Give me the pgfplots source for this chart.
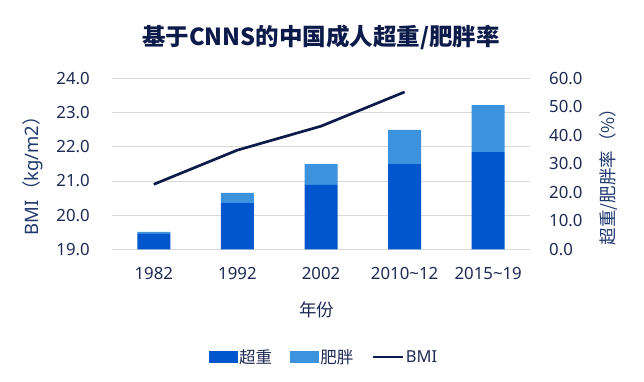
\documentclass[border=0pt]{standalone}
\usepackage{fontspec}
\setmainfont{Noto Sans}
\newfontfamily\cjk{Noto Sans CJK SC}
\usepackage{pgfplots}
\pgfplotsset{compat=1.18}
\definecolor{ow}{RGB}{0,86,204}
\definecolor{ob}{RGB}{60,146,221}
\definecolor{bmi}{RGB}{13,27,75}
\definecolor{txt}{RGB}{30,42,84}
\definecolor{lbl}{RGB}{31,56,110}
\definecolor{gridc}{RGB}{217,217,217}
\begin{document}
\begin{tikzpicture}
\path[use as bounding box] (0,0) rectangle (644pt,381pt);
\node[text=bmi] at (321pt,344pt) {\cjk\bfseries\fontsize{23.5}{27}\selectfont 基于CNNS的中国成人超重/肥胖率};
\begin{axis}[
  at={(112pt,131.7pt)}, anchor=south west,
  scale only axis, width=418pt, height=171pt,
  xmin=-0.5, xmax=4.5, ymin=0, ymax=60,
  ybar stacked, bar width=33pt,
  axis y line*=right, axis x line*=bottom,
  axis line style={draw=none},
  major tick length=0pt,
  ytick={0,10,...,60},
  extra y ticks={0,12,24,36,48,60},
  extra y tick labels={},
  extra y tick style={grid=major, major grid style={gridc, line width=0.8pt}},
  xtick={0,1,2,3,4},
  xticklabels={1982,1992,2002,2010\textasciitilde12,2015\textasciitilde19},
  tick label style={font=\fontsize{16.8}{19}\selectfont, text=txt},
  /pgf/number format/assume math mode=true,
  yticklabel={\pgfmathprintnumber[fixed,fixed zerofill,precision=1]{\tick}},
  yticklabel style={anchor=west, inner sep=0pt},
  yticklabel shift=19pt,
  xticklabel style={inner sep=0pt, anchor=north},
  xticklabel shift=18pt,
  xlabel={\cjk 年份},
  ylabel={\cjk 超重/肥胖率（\%）},
  every axis x label/.style={at={(axis description cs:0.49,-0.355)}, anchor=center, font=\fontsize{17.5}{20}\selectfont, text=txt},
  every axis y label/.style={at={(axis description cs:1.189,0.45)}, anchor=center, rotate=90, font=\fontsize{17.5}{20}\selectfont, text=lbl},
]
\addplot[fill=ow, draw=none] coordinates {(0,5.6) (1,16.2) (2,22.6) (3,29.9) (4,34.1)};
\addplot[fill=ob, draw=none] coordinates {(0,0.5) (1,3.6) (2,7.3) (3,12.0) (4,16.5)};
\end{axis}
\begin{axis}[
  at={(112pt,131.7pt)}, anchor=south west,
  scale only axis, width=418pt, height=171pt,
  xmin=-0.5, xmax=4.5, ymin=19, ymax=24,
  axis y line*=left, axis x line=none,
  axis line style={draw=none},
  major tick length=0pt,
  ytick={19,20,...,24},
  tick label style={font=\fontsize{16.8}{19}\selectfont, text=txt},
  /pgf/number format/assume math mode=true,
  yticklabel={\pgfmathprintnumber[fixed,fixed zerofill,precision=1]{\tick}},
  yticklabel style={anchor=east, inner sep=0pt},
  yticklabel shift=22pt,
  ylabel={BMI{\cjk（}kg/m2{\cjk）}},
  every axis y label/.style={at={(axis description cs:-0.189,0.458)}, anchor=center, rotate=90, font=\fontsize{18.5}{21}\selectfont, text=lbl},
  legend columns=3,
  legend style={draw=none, fill=none, at={(0.507,-0.63)}, anchor=center,
    font=\fontsize{16.5}{19}\selectfont, text=txt,
    /tikz/every even column/.append style={column sep=16pt}},
  legend cell align=left,
]
\addlegendimage{legend image code/.code={\fill[ow] (0pt,-5.5pt) rectangle (28pt,5.5pt);}}
\addlegendentry{\cjk 超重}
\addlegendimage{legend image code/.code={\fill[ob] (0pt,-5.5pt) rectangle (28pt,5.5pt);}}
\addlegendentry{\cjk 肥胖}
\addplot[bmi, line width=2.7pt, mark=none,
  legend image code/.code={\draw[bmi, line width=2.5pt] (0pt,0pt) -- (30pt,0pt);}]
  coordinates {(0,20.9) (1,21.9) (2,22.6) (3,23.6)};
\addlegendentry{BMI}
\end{axis}
\end{tikzpicture}
\end{document}
